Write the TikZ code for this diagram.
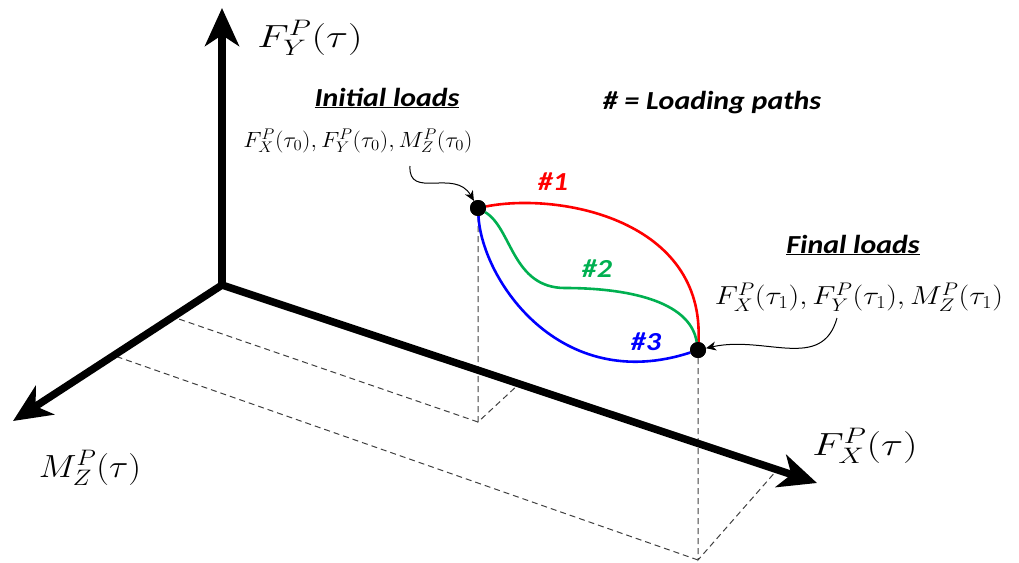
\RequirePackage{fix-cm}
\documentclass[tikz,border=0pt]{standalone}
\usepackage{graphicx}
\usepackage{fontspec}
\newfontfamily\cali{Carlito}
\usetikzlibrary{arrows.meta}
\definecolor{pgreen}{RGB}{0,176,80}
\definecolor{pred}{RGB}{255,0,0}
\definecolor{pblue}{RGB}{0,0,255}
\newcommand{\hstretch}[2]{\scalebox{#1}[1]{#2}}
\begin{document}
\begin{tikzpicture}[x=1pt,y=-1pt,
  axis/.style={line width=7.5pt,-{Stealth[length=38pt,width=34pt,inset=11pt]}},
  proj/.style={dash pattern=on 6pt off 4pt, line width=1pt, black!75},
  pathline/.style={line width=2.6pt},
  dot/.style={circle,fill=black,inner sep=0pt,minimum size=16pt},
  lbl/.style={font=\cali\bfseries\itshape\fontsize{26}{30}\selectfont},
  axlbl/.style={font=\fontsize{32}{36}\selectfont},
  mathlbl/.style={font=\fontsize{22}{26}\selectfont},
  pointer/.style={line width=1pt,-{Stealth[length=10pt,width=9pt,inset=3pt]}}
]
\useasboundingbox (0,0) rectangle (1019,562);

% key points
\coordinate (O) at (222,285);
\coordinate (Ytip) at (222,8);
\coordinate (Ztip) at (13,421);
\coordinate (Xtip) at (817,483);
\coordinate (FA) at (478,422);
\coordinate (FB) at (698,560);
\coordinate (FAx) at (519,384);
\coordinate (FAz) at (173,317);
\coordinate (FBx) at (777,470);
\coordinate (FBz) at (115,356);

\node[dot] (A) at (478,208) {};
\node[dot] (B) at (698,350) {};

% projection lines
\draw[proj] (A) -- (FA) -- (FAx);
\draw[proj] (FA) -- (FAz);
\draw[proj] (B) -- (FB) -- (FBx);
\draw[proj] (FB) -- (FBz);

% axes
\draw[axis] (O) -- (Ytip);
\draw[axis] (O) -- (Ztip);
\draw[axis] (O) -- (Xtip);
\fill (O) circle (3.75pt);

% axis labels
\node[axlbl] (ly) at (310,38) {\hstretch{1.28}{$F_Y^P(\tau)$}};
\node[axlbl] (lz) at (90,468) {\hstretch{1.12}{$M_Z^P(\tau)$}};
\node[axlbl] (lx) at (865,446) {\hstretch{1.28}{$F_X^P(\tau)$}};

% loading paths
\draw[pathline,pred] (A) .. controls (560,192) and (705,220) .. (B);
\draw[pathline,pgreen] (A) .. controls (512,228) and (512,288) .. (565,288)
   .. controls (625,288) and (690,300) .. (B);
\draw[pathline,pblue] (A) .. controls (482,280) and (560,395) .. (B);
\node[dot] at (A) {};
\node[dot] at (B) {};

\node[lbl,text=pred] (n1) at (553,182) {\hstretch{1.15}{\#1}};
\node[lbl,text=pgreen] (n2) at (597,269) {\hstretch{1.15}{\#2}};
\node[lbl,text=pblue] (n3) at (646,342) {\hstretch{1.15}{\#3}};

% legend
\node[lbl] (leg) at (712,103) {\hstretch{1.15}{\# = Loading paths}};

% initial loads
\node[lbl] (ih) at (387,98) {\hstretch{1.15}{\underline{Initial loads}}};
\node[mathlbl] (im) at (358,141) {\hstretch{1.08}{$F_X^P(\tau_0), F_Y^P(\tau_0), M_Z^P(\tau_0)$}};
\coordinate (ic) at (410,166);
\draw[pointer] (ic) .. controls (408,200) and (455,168) .. (A);

% final loads
\node[lbl] (fh) at (853,245) {\hstretch{1.15}{\underline{Final loads}}};
\node[mathlbl,font=\fontsize{26}{30}\selectfont] (fm) at (859,297) {\hstretch{1.16}{$F_X^P(\tau_1), F_Y^P(\tau_1), M_Z^P(\tau_1)$}};
\coordinate (fc) at (837,318);
\draw[pointer] (fc) .. controls (822,372) and (765,335) .. (B);
\end{tikzpicture}
\end{document}
